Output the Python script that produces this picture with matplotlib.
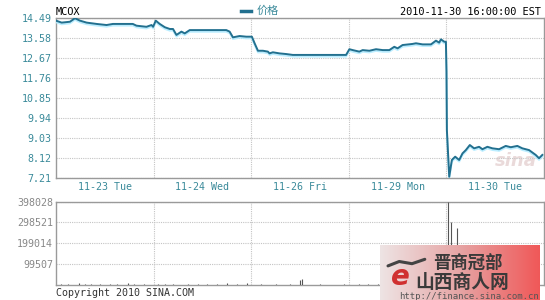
import numpy as np
import matplotlib.pyplot as plt
from matplotlib import patheffects
from matplotlib.colors import LinearSegmentedColormap

# price trace: time in trading days (0 = 11-23 open), price in USD
price_t = [0.000, 0.058, 0.143, 0.194, 0.245, 0.314, 0.416, 0.518, 0.583, 0.723,
           0.787, 0.825, 0.927, 0.979, 0.995, 1.022, 1.063, 1.115, 1.166, 1.199,
           1.234, 1.285, 1.319, 1.370, 1.421, 1.745, 1.779, 1.813, 1.881, 1.950,
           2.007, 2.035, 2.069, 2.120, 2.171, 2.188, 2.222, 2.290, 2.359, 2.426,
           2.972, 3.006, 3.040, 3.108, 3.142, 3.211, 3.279, 3.347, 3.415, 3.466,
           3.500, 3.551, 3.653, 3.688, 3.756, 3.842, 3.893, 3.926, 3.944, 3.978,
           3.995, 4.001, 4.005, 4.029, 4.056, 4.090, 4.131, 4.165, 4.199, 4.240,
           4.284, 4.335, 4.369, 4.420, 4.471, 4.540, 4.608, 4.660, 4.727, 4.778,
           4.847, 4.915, 4.949, 4.983]
price_v = [14.37, 14.28, 14.32, 14.48, 14.37, 14.28, 14.22, 14.17, 14.22, 14.22,
           14.22, 14.14, 14.09, 14.17, 14.09, 14.37, 14.22, 14.07, 13.99, 13.99,
           13.72, 13.87, 13.79, 13.94, 13.94, 13.94, 13.87, 13.61, 13.67, 13.64,
           13.64, 13.34, 13.00, 13.00, 12.96, 12.88, 12.93, 12.88, 12.85, 12.81,
           12.81, 13.07, 13.03, 12.96, 13.03, 13.00, 13.07, 13.03, 13.03, 13.18,
           13.11, 13.26, 13.31, 13.34, 13.29, 13.29, 13.46, 13.37, 13.52, 13.41,
           13.41, 12.05, 9.39, 7.27, 8.03, 8.18, 8.03, 8.33, 8.48, 8.71,
           8.56, 8.63, 8.52, 8.63, 8.56, 8.52, 8.67, 8.61, 8.67, 8.56,
           8.48, 8.26, 8.11, 8.26]

# volume bars
vol_t = [0.05, 0.12, 0.24, 0.30, 0.36, 0.45, 0.55, 0.62, 0.74, 0.80, 0.90, 1.05,
         1.12, 1.20, 1.35, 1.45, 1.55, 1.65, 1.75, 1.85, 1.96, 2.10, 2.25, 2.40,
         2.50, 2.52, 2.70, 2.95, 3.10, 3.20, 3.30, 3.40, 3.50, 3.60, 3.70, 3.80,
         3.90, 4.015, 4.05, 4.11, 4.20, 4.30, 4.40, 4.50, 4.60, 4.70, 4.80, 4.90]
vol_v = [6000, 4000, 9000, 5000, 7000, 4000, 5000, 6000, 9000, 5000, 4000, 6000,
         4000, 5000, 7000, 4000, 5000, 4000, 8000, 6000, 9000, 5000, 6000, 7000,
         26000, 30000, 6000, 5000, 5000, 4000, 6000, 5000, 7000, 5000, 8000, 6000,
         9000, 398028, 301000, 272000, 14000, 12000, 8000, 9000, 7000, 10000, 6000, 8000]

price_ticks = [7.21, 8.12, 9.03, 9.94, 10.85, 11.76, 12.67, 13.58, 14.49]
vol_ticks = [99507, 199014, 298521, 398028]
day_labels = ["11-23 Tue", "11-24 Wed", "11-26 Fri", "11-29 Mon", "11-30 Tue"]

LINE = "#22708f"
TEAL = "#3a8a9a"
GRID = "#c4c4c4"
FRAME = "#9a9a9a"
MONO = "DejaVu Sans Mono"

fig = plt.figure(figsize=(5.45, 3.0), dpi=100)
fig.patch.set_facecolor("white")

ax = fig.add_axes([56 / 545, 1 - 178 / 300, 488 / 545, 160 / 300])
axv = fig.add_axes([56 / 545, 1 - 285 / 300, 488 / 545, 83.5 / 300])

# price line with a light glow underneath
ax.plot(price_t, price_v, color=LINE, lw=1.4, zorder=3,
        path_effects=[patheffects.SimpleLineShadow(offset=(0, -1.2), shadow_color="#b4ecff", alpha=0.9, rho=1),
                      patheffects.Normal()])
ax.set_xlim(0, 5)
ax.set_ylim(7.21, 14.49)
ax.set_yticks(price_ticks)
ax.set_yticklabels([f"{v:.2f}" for v in price_ticks])
ax.set_xticks([0.5, 1.5, 2.5, 3.5, 4.5])
ax.set_xticklabels(day_labels)
ax.set_xticks([1, 2, 3, 4], minor=True)
ax.grid(True, which="minor", axis="x", color=GRID, ls=(0, (1, 1)), lw=0.8)
ax.grid(True, which="major", axis="y", color=GRID, ls=(0, (1, 1)), lw=0.8)
ax.tick_params(which="both", length=0)
ax.tick_params(axis="both", labelsize=7.2, colors=TEAL, pad=3)
for lbl in ax.get_xticklabels() + ax.get_yticklabels():
    lbl.set_family(MONO)
for s in ax.spines.values():
    s.set_color(FRAME)
    s.set_linewidth(1.0)

# volume
axv.vlines(vol_t, 0, vol_v, color="#555555", lw=0.8, zorder=3)
axv.set_xlim(0, 5)
axv.set_ylim(0, 398028)
axv.set_yticks(vol_ticks)
axv.set_yticklabels([str(v) for v in vol_ticks])
axv.set_xticks([])
axv.set_xticks([1, 2, 3, 4], minor=True)
axv.grid(True, which="minor", axis="x", color=GRID, ls=(0, (1, 1)), lw=0.8)
axv.grid(True, which="major", axis="y", color=GRID, ls=(0, (1, 1)), lw=0.8)
axv.tick_params(which="both", length=0)
axv.tick_params(axis="y", labelsize=7.2, colors="#888888", pad=2)
for lbl in axv.get_yticklabels():
    lbl.set_family(MONO)
for s in axv.spines.values():
    s.set_color(FRAME)
    s.set_linewidth(1.0)

# header texts
fig.text(56 / 545, 1 - 12 / 300, "MCOX", family=MONO, fontsize=7.4, color="black", va="center", ha="left")
fig.text(541 / 545, 1 - 12 / 300, "2010-11-30 16:00:00 EST", family=MONO, fontsize=7.4,
         color="black", va="center", ha="right")
fig.lines.append(plt.Line2D([241 / 545, 251 / 545], [1 - 11 / 300, 1 - 11 / 300],
                            transform=fig.transFigure, color=LINE, lw=2.5))
fig.text(257 / 545, 1 - 11 / 300, "价格", family=["Noto Sans CJK SC", "DejaVu Sans"],
         fontsize=8, color=TEAL, va="center", ha="left")
fig.text(56 / 545, 1 - 293 / 300, "Copyright 2010 SINA.COM", family=MONO, fontsize=7.2,
         color="#333333", va="center", ha="left")

# sina watermark
ax.text(0.985, 0.05, "sina", transform=ax.transAxes, fontsize=13, style="italic",
        fontweight="bold", color="#eadada", ha="right", va="bottom", zorder=1)

# overlay logo box at bottom right
lax = fig.add_axes([380 / 545, 0, 160 / 545, 55 / 300])
grad = np.linspace(0, 1, 256).reshape(1, -1)
cmap = LinearSegmentedColormap.from_list("lg", ["#eee4e4", "#e6a4a4", "#f05858"])
lax.imshow(grad, aspect="auto", cmap=cmap, extent=[0, 1, 0, 1])
lax.set_axis_off()
cjk = ["Noto Sans CJK SC", "DejaVu Sans"]
lax.text(0.33, 0.66, "晋商冠部", family=cjk, fontsize=12.5, color="#3a3a3a", va="center", ha="left",
         fontweight="bold")
lax.text(0.22, 0.32, "山西商人网", family=cjk, fontsize=13.5, color="#3a3a3a", va="center", ha="left",
         fontweight="bold")
lax.text(0.12, 0.06, "http://finance.sina.com.cn", family=MONO, fontsize=6.5, color="#555555",
         va="center", ha="left")
lax.text(0.13, 0.42, "e", fontsize=20, color="#d03030", style="italic", va="center", ha="center",
         fontweight="bold")
lax.plot([0.05, 0.12, 0.2, 0.28], [0.62, 0.7, 0.66, 0.74], color="#444444", lw=2.2,
         solid_capstyle="round")

fig.savefig("out.png", dpi=100)
